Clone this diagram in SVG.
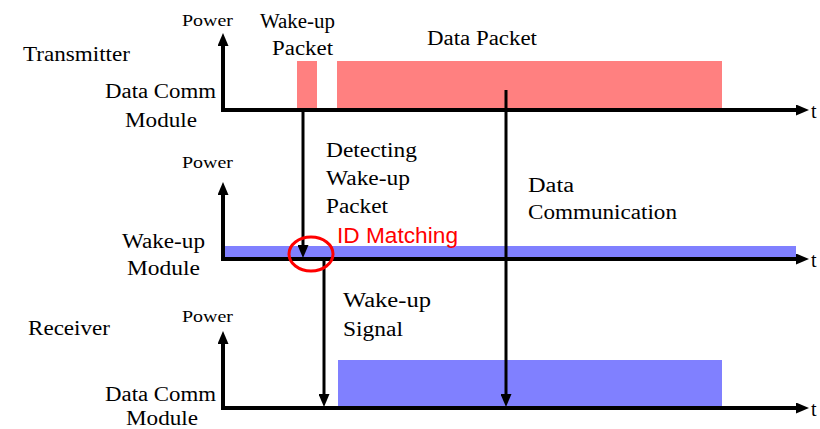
<svg xmlns="http://www.w3.org/2000/svg" width="820" height="429" viewBox="0 0 820 429">
  <style>
    .lbl { font-family: "Liberation Serif", "Times New Roman", serif; font-size: 20px; fill: #000; }
    .pw { font-size: 17px; }
    .id { font-family: "Liberation Sans", Arial, sans-serif; font-size: 22px; fill: #ff0000; }
    .axis { fill: none; stroke: #000; stroke-width: 4; stroke-linejoin: miter; marker-start: url(#axisHead); marker-end: url(#axisHead); }
    .conn { fill: none; stroke: #000; stroke-width: 3; marker-end: url(#connHead); }
    .tx { fill: #ff8080; }
    .rx { fill: #8080ff; }
  </style>
  <defs>
    <marker id="axisHead" markerUnits="userSpaceOnUse" markerWidth="13" markerHeight="11" refX="0" refY="5.5" orient="auto-start-reverse">
      <path d="M0,0 L13,5.5 L0,11 z" fill="#000"/>
    </marker>
    <marker id="connHead" markerUnits="userSpaceOnUse" markerWidth="13" markerHeight="11" refX="0" refY="5.5" orient="auto">
      <path d="M0,0 L13,5.5 L0,11 z" fill="#000"/>
    </marker>
  </defs>

  <rect width="820" height="429" fill="#fff"/>

  <!-- Transmitter: data comm module -->
  <g id="transmitter">
    <rect class="tx" x="297" y="61" width="20" height="48"/>
    <rect class="tx" x="337" y="61" width="385" height="48"/>
    <path class="axis" d="M223,46 V110 H796"/>
    <text class="lbl pw" x="182" y="26" textLength="51" lengthAdjust="spacingAndGlyphs">Power</text>
    <text class="lbl" x="260" y="28" textLength="75" lengthAdjust="spacingAndGlyphs">Wake-up</text>
    <text class="lbl" x="272" y="55" textLength="61" lengthAdjust="spacingAndGlyphs">Packet</text>
    <text class="lbl" x="427" y="45" textLength="110" lengthAdjust="spacingAndGlyphs">Data Packet</text>
    <text class="lbl" x="23" y="61" style="font-size:21px" textLength="107" lengthAdjust="spacingAndGlyphs">Transmitter</text>
    <text class="lbl" x="105" y="98" textLength="111" lengthAdjust="spacingAndGlyphs">Data Comm</text>
    <text class="lbl" x="125" y="127" textLength="72" lengthAdjust="spacingAndGlyphs">Module</text>
    <text class="lbl" x="811" y="118">t</text>
  </g>

  <!-- Receiver: wake-up module -->
  <g id="wakeup-module">
    <rect class="rx" x="225" y="246" width="571" height="12"/>
    <path class="axis" d="M223,195 V259 H796"/>
    <text class="lbl pw" x="182" y="168" textLength="51" lengthAdjust="spacingAndGlyphs">Power</text>
    <text class="lbl" x="122" y="248" textLength="83" lengthAdjust="spacingAndGlyphs">Wake-up</text>
    <text class="lbl" x="127" y="275" textLength="73" lengthAdjust="spacingAndGlyphs">Module</text>
    <text class="lbl" x="811" y="267">t</text>
  </g>

  <!-- Receiver: data comm module -->
  <g id="receiver">
    <rect class="rx" x="338" y="360" width="384" height="48"/>
    <path class="axis" d="M223,344 V408 H796"/>
    <text class="lbl pw" x="182" y="322" textLength="51" lengthAdjust="spacingAndGlyphs">Power</text>
    <text class="lbl" x="28" y="335" textLength="82" lengthAdjust="spacingAndGlyphs">Receiver</text>
    <text class="lbl" x="105" y="401" textLength="111" lengthAdjust="spacingAndGlyphs">Data Comm</text>
    <text class="lbl" x="126" y="425" textLength="72" lengthAdjust="spacingAndGlyphs">Module</text>
    <text class="lbl" x="811" y="416">t</text>
  </g>

  <!-- Signal flow between modules -->
  <g id="connectors">
    <path class="conn" d="M303,110 V245"/>
    <path class="conn" d="M324,259 V394"/>
    <path class="conn" d="M506,90 V394"/>
  </g>

  <g id="detect-label">
    <text class="lbl" x="326" y="157" textLength="91" lengthAdjust="spacingAndGlyphs">Detecting</text>
    <text class="lbl" x="326" y="185" textLength="84" lengthAdjust="spacingAndGlyphs">Wake-up</text>
    <text class="lbl" x="326" y="213" textLength="62" lengthAdjust="spacingAndGlyphs">Packet</text>
  </g>

  <g id="data-comm-label">
    <text class="lbl" x="528" y="192" textLength="46" lengthAdjust="spacingAndGlyphs">Data</text>
    <text class="lbl" x="528" y="219" textLength="149" lengthAdjust="spacingAndGlyphs">Communication</text>
  </g>

  <g id="wakeup-signal-label">
    <text class="lbl" x="343" y="307" textLength="88" lengthAdjust="spacingAndGlyphs">Wake-up</text>
    <text class="lbl" x="343" y="336" textLength="60" lengthAdjust="spacingAndGlyphs">Signal</text>
  </g>

  <!-- ID matching highlight -->
  <g id="id-matching">
    <ellipse cx="311" cy="254" rx="22" ry="17" fill="none" stroke="#ff0000" stroke-width="3"/>
    <text class="id" x="337" y="243" textLength="121" lengthAdjust="spacingAndGlyphs">ID Matching</text>
  </g>
</svg>
